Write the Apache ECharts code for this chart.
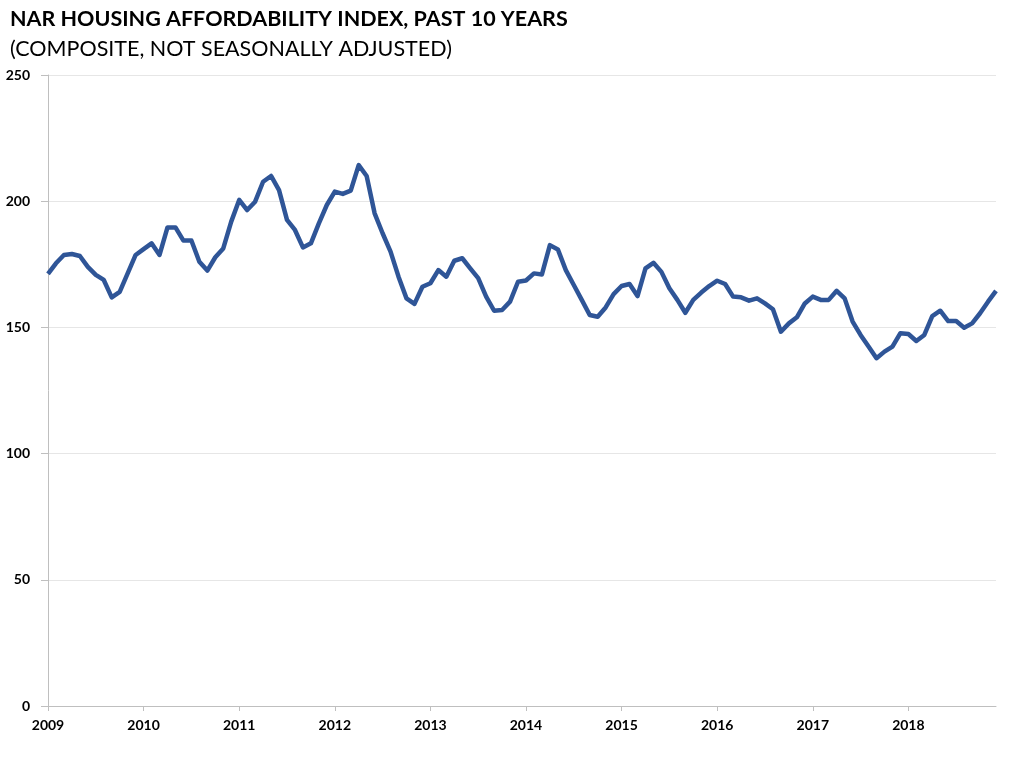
<!DOCTYPE html>
<html>
<head>
<meta charset="utf-8">
<script src="https://cdn.jsdelivr.net/npm/echarts@6/dist/echarts.min.js"></script>
<style>
html,body{margin:0;padding:0;background:#fff;}
#chart{width:1024px;height:761px;}
</style>
</head>
<body>
<div id="chart"></div>
<script>
const titleText = "NAR HOUSING AFFORDABILITY INDEX, PAST 10 YEARS";
const subtitleText = "(COMPOSITE, NOT SEASONALLY ADJUSTED)";
const years = ["2009","2010","2011","2012","2013","2014","2015","2016","2017","2018"];
const monthsPerYear = 12;
const yTicks = [0, 50, 100, 150, 200, 250];

const v2009 = [171.2,175.4,178.7,179.1,178.3,174.0,170.8,168.8,161.9,164.1,171.4,178.7];
const v2010 = [181.0,183.3,178.7,189.6,189.6,184.4,184.4,176.0,172.5,177.8,181.3,191.9];
const v2011 = [200.5,196.5,199.8,207.7,210.0,204.4,192.6,188.6,181.7,183.3,191.2,198.5];
const v2012 = [203.8,202.9,204.2,214.3,210.0,195.2,187.3,180.0,170.1,161.5,159.3,166.1];
const v2013 = [167.5,172.7,170.1,176.4,177.4,173.4,169.5,162.2,156.6,156.9,160.2,168.1];
const v2014 = [168.6,171.4,171.0,182.6,180.9,172.7,166.8,160.9,154.9,154.2,157.9,163.2];
const v2015 = [166.4,167.2,162.4,173.4,175.6,172.0,165.5,160.9,155.8,160.9,163.8,166.4];
const v2016 = [168.5,167.2,162.2,161.9,160.6,161.5,159.5,157.2,148.3,151.6,154.0,159.5];
const v2017 = [162.2,160.9,160.9,164.5,161.5,152.3,147.0,142.4,137.8,140.4,142.4,147.7];
const v2018 = [147.4,144.6,147.0,154.5,156.6,152.5,152.5,149.9,151.6,155.6,160.2,164.5];

const series = [].concat(v2009,v2010,v2011,v2012,v2013,v2014,v2015,v2016,v2017,v2018);
const categories = [];
years.forEach(y => { for (let m = 1; m <= monthsPerYear; m++) categories.push(y + "-" + String(m).padStart(2,"0")); });

const chart = echarts.init(document.getElementById('chart'), null, {renderer:'canvas'});
const font = "Lato, 'Open Sans', sans-serif";
chart.setOption({
  backgroundColor: '#ffffff',
  animation: false,
  title: [
    { text: titleText, left: 5, top: 3, textStyle: { fontFamily: font, fontSize: 21.5, fontWeight: 'bold', color: '#000' } },
    { text: subtitleText, left: 5, top: 33, textStyle: { fontFamily: font, fontSize: 21.5, fontWeight: 'normal', color: '#000' } }
  ],
  grid: { left: 48, right: 28, top: 75, bottom: 55, containLabel: false },
  xAxis: {
    type: 'category',
    data: categories,
    boundaryGap: false,
    axisLine: { lineStyle: { color: '#bfbfbf', width: 1 } },
    axisTick: { show: true, length: 5, lineStyle: { color: '#bfbfbf' }, interval: (i) => i % monthsPerYear === 0 },
    axisLabel: {
      interval: (i) => i % monthsPerYear === 0,
      formatter: (val) => val.slice(0,4),
      fontFamily: font, fontSize: 14, fontWeight: 'bold', color: '#000', margin: 12
    },
    splitLine: { show: false }
  },
  yAxis: {
    type: 'value',
    min: yTicks[0], max: yTicks[yTicks.length-1], interval: 50,
    axisLine: { show: true, lineStyle: { color: '#bfbfbf', width: 1 } },
    axisTick: { show: true, length: 7, lineStyle: { color: '#bfbfbf' } },
    axisLabel: { fontFamily: font, fontSize: 14, fontWeight: 'bold', color: '#000', margin: 18 },
    splitLine: { show: true, lineStyle: { color: '#e6e6e6', width: 1 } }
  },
  series: [{
    type: 'line',
    data: series,
    symbol: 'none',
    lineStyle: { color: '#2f5597', width: 4.5, join: 'round' },
    itemStyle: { color: '#2f5597' }
  }]
});
</script>
</body>
</html>
